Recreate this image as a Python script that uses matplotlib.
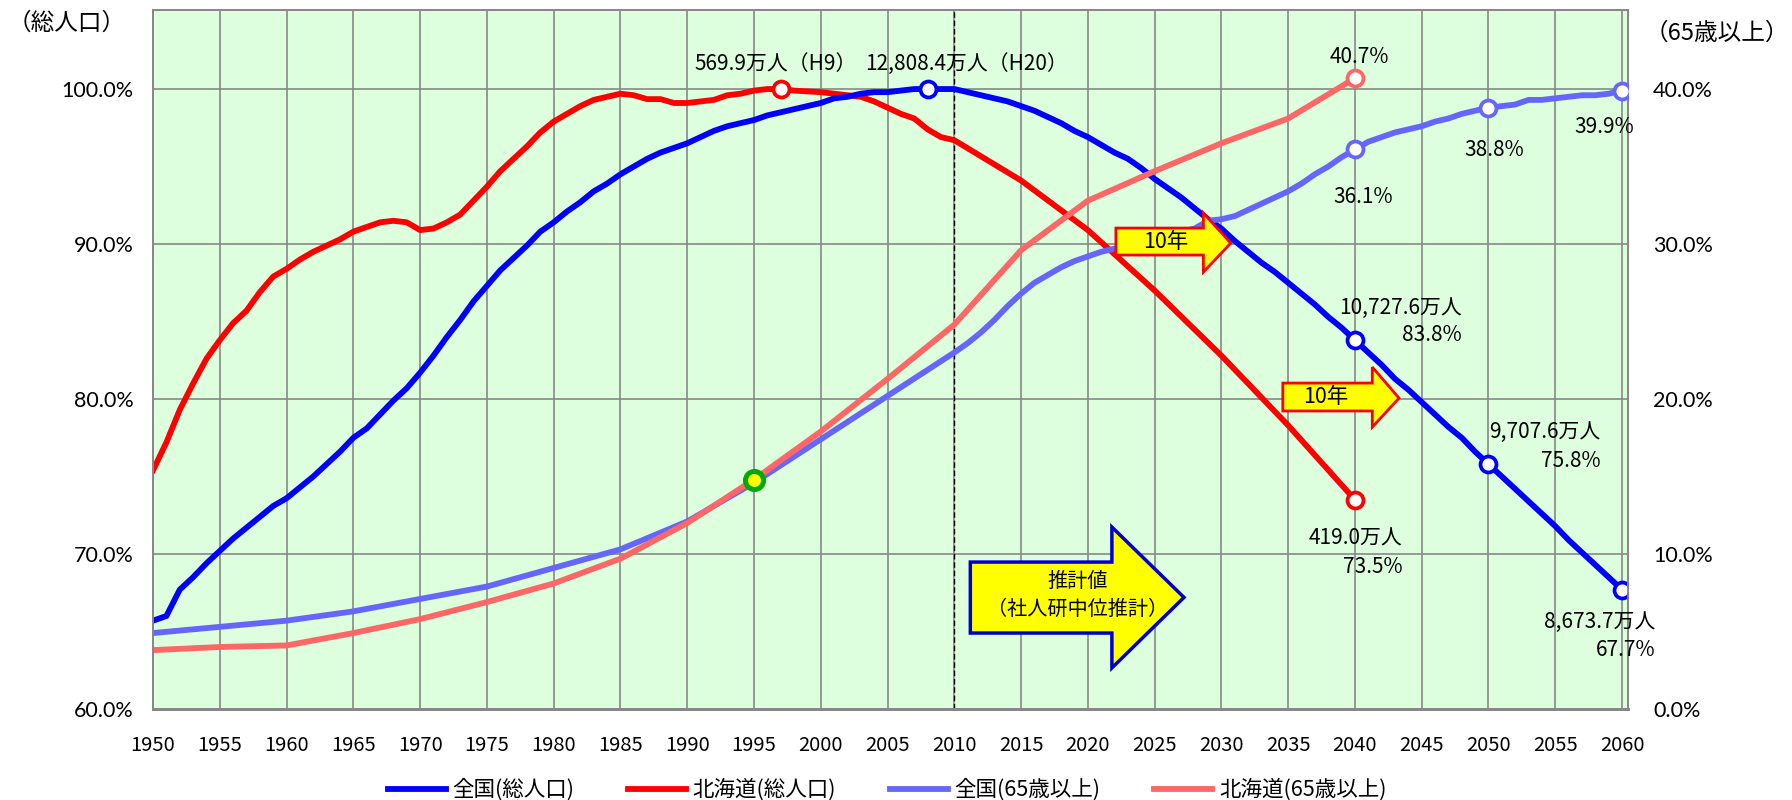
import matplotlib
matplotlib.use("Agg")
import matplotlib.pyplot as plt
from matplotlib.patches import Polygon

plt.rcParams["font.family"] = ["Noto Sans CJK JP", "DejaVu Sans"]

# ── Data (全国 = 2008年比, 北海道 = 1997年比) ───────────────────────
years_all = list(range(1950, 2061))
zenkoku_total = [
    65.7, 66.0, 67.7, 68.5, 69.4, 70.2, 71.0, 71.7, 72.4, 73.1,   # 1950-59
    73.6, 74.3, 75.0, 75.8, 76.6, 77.5, 78.1, 79.0, 79.9, 80.7,   # 1960-69
    81.7, 82.8, 84.0, 85.1, 86.3, 87.3, 88.3, 89.1, 89.9, 90.8,   # 1970-79
    91.4, 92.1, 92.7, 93.4, 93.9, 94.5, 95.0, 95.5, 95.9, 96.2,   # 1980-89
    96.5, 96.9, 97.3, 97.6, 97.8, 98.0, 98.3, 98.5, 98.7, 98.9,   # 1990-99
    99.1, 99.4, 99.5, 99.7, 99.8, 99.8, 99.9, 100.0, 100.0, 100.0,  # 2000-09
    100.0, 99.8, 99.6, 99.4, 99.2, 98.9, 98.6, 98.2, 97.8, 97.3,  # 2010-19
    96.9, 96.4, 95.9, 95.5, 94.9, 94.2, 93.6, 93.0, 92.3, 91.6,   # 2020-29
    91.0, 90.2, 89.5, 88.8, 88.2, 87.5, 86.8, 86.1, 85.3, 84.6,   # 2030-39
    83.8, 83.0, 82.2, 81.3, 80.6, 79.8, 79.0, 78.2, 77.5, 76.6,   # 2040-49
    75.8, 75.0, 74.2, 73.4, 72.6, 71.8, 70.9, 70.1, 69.3, 68.5,   # 2050-59
    67.7,                                                          # 2060
]

years_hkd = list(range(1950, 2011)) + [2015, 2020, 2025, 2030, 2035, 2040]
hokkaido_total = [
    75.4, 77.2, 79.3, 81.0, 82.6, 83.8, 84.9, 85.7, 86.9, 87.9,   # 1950-59
    88.4, 89.0, 89.5, 89.9, 90.3, 90.8, 91.1, 91.4, 91.5, 91.4,   # 1960-69
    90.9, 91.0, 91.4, 91.9, 92.8, 93.7, 94.7, 95.5, 96.3, 97.2,   # 1970-79
    97.9, 98.4, 98.9, 99.3, 99.5, 99.7, 99.6, 99.35, 99.35, 99.1,  # 1980-89
    99.1, 99.2, 99.3, 99.6, 99.7, 99.9, 100.0, 100.0, 99.9, 99.85,  # 1990-99
    99.8, 99.7, 99.6, 99.5, 99.2, 98.8, 98.4, 98.1, 97.4, 96.9,   # 2000-09
    96.7,                                                          # 2010
    94.1, 90.9, 87.0, 82.8, 78.3, 73.5,                            # 2015-40
]

years_z65 = [1950, 1955, 1960, 1965, 1970, 1975, 1980, 1985, 1990, 1995,
             2000, 2005] + list(range(2010, 2061))
zenkoku_65 = [
    4.9, 5.3, 5.7, 6.3, 7.1, 7.9, 9.1, 10.3, 12.1, 14.6, 17.4, 20.2,  # 1950-2005
    23.0, 23.6, 24.3, 25.1, 26.0, 26.8, 27.5, 28.0, 28.5, 28.9,       # 2010-19
    29.2, 29.5, 29.7, 29.9, 30.1, 30.4, 30.6, 30.8, 31.0, 31.5,       # 2020-29
    31.6, 31.8, 32.2, 32.6, 33.0, 33.4, 33.9, 34.5, 35.0, 35.6,       # 2030-39
    36.1, 36.6, 36.9, 37.2, 37.4, 37.6, 37.9, 38.1, 38.4, 38.6,       # 2040-49
    38.8, 38.9, 39.0, 39.3, 39.3, 39.4, 39.5, 39.6, 39.6, 39.7,       # 2050-59
    39.9,                                                             # 2060
]

years_h65 = list(range(1950, 2041, 5))
hokkaido_65 = [3.8, 4.0, 4.1, 4.9, 5.8, 6.9, 8.1, 9.7, 12.0, 14.8,
               17.9, 21.3, 24.8, 29.6, 32.8, 34.7, 36.5, 38.1, 40.7]

labels = ["全国(総人口)", "北海道(総人口)", "全国(65歳以上)", "北海道(65歳以上)"]

# ── Style ─────────────────────────────────────────────────────────
C_ZT  = "#0000FF"
C_HT  = "#FF0000"
C_Z65 = "#6666FF"
C_H65 = "#FF6666"
BG    = "#DDFFDD"
GRID  = "#878787"
LW    = 4.2
YFONT = ["Lato", "DejaVu Sans"]

fig = plt.figure(figsize=(17.92, 8), dpi=100)
ax = fig.add_axes([0.0854, 0.11375, 0.8231, 0.87375])
ax2 = ax.twinx()

ax.set_facecolor(BG)
ax.set_xlim(1950, 2060.45)
ax.set_ylim(60, 105.1)
ax2.set_ylim(0, 45.1)

ax.set_xticks(range(1950, 2061, 5))
ax.set_yticks(range(60, 101, 10))
ax.set_yticklabels([f"{v:.1f}%" for v in range(60, 101, 10)],
                   family=YFONT, fontsize=15.5)
ax2.set_yticks(range(0, 41, 10))
ax2.set_yticklabels([f"{v:.1f}%" for v in range(0, 41, 10)],
                    family=YFONT, fontsize=15.5)
ax.tick_params(axis="x", length=0, pad=19, labelsize=14.5)
ax.tick_params(axis="y", length=0, pad=14)
ax2.tick_params(axis="y", length=0, pad=18)

ax.set_axisbelow(True)
ax.grid(True, color=GRID, lw=1.2)
for a in (ax, ax2):
    for s in a.spines.values():
        s.set_color(GRID)
        s.set_linewidth(1.3)
    a.spines["bottom"].set_linewidth(2)

ax.axvline(2010, color="black", lw=1.0, ls=(0, (4, 2)), zorder=1.5)

# ── Lines ─────────────────────────────────────────────────────────
l1, = ax.plot(years_all, zenkoku_total, color=C_ZT, lw=LW, zorder=3)
l2, = ax.plot(years_hkd, hokkaido_total, color=C_HT, lw=LW, zorder=2.5)
l3, = ax2.plot(years_z65, zenkoku_65, color=C_Z65, lw=LW, zorder=2)
l4, = ax2.plot(years_h65, hokkaido_65, color=C_H65, lw=LW, zorder=2.5)

mk = dict(marker="o", ms=11.5, mew=2.7, mfc="white", ls="none", zorder=6)
for y in (2008, 2040, 2050, 2060):
    i = years_all.index(y)
    ax.plot(years_all[i], zenkoku_total[i], mec=C_ZT, **mk)
for y in (1997, 2040):
    i = years_hkd.index(y)
    ax.plot(years_hkd[i], hokkaido_total[i], mec=C_HT, **mk)
for y in (2040, 2050, 2060):
    i = years_z65.index(y)
    ax2.plot(years_z65[i], zenkoku_65[i], mec=C_Z65, **mk)
i = years_h65.index(2040)
ax2.plot(years_h65[i], hokkaido_65[i], mec=C_H65, **mk)
i = years_h65.index(1995)
ax2.plot(years_h65[i], hokkaido_65[i], marker="o", ms=13, mew=3.6,
         mfc="#FFFF00", mec="#00AA00", zorder=7)

# ── Arrows (left-axis units) ─────────────────────────────────────
def arrow(x0, xb, xt, bt, bb, ht, hb, yt, fc, ec, lw):
    pts = [(x0, bb), (x0, bt), (xb, bt), (xb, ht), (xt, yt), (xb, hb), (xb, bb)]
    p = Polygon(pts, closed=True, facecolor=fc, edgecolor=ec, lw=lw,
                transform=ax.transData, zorder=8, joinstyle="miter")
    ax2.add_patch(p)

arrow(2022.1, 2028.65, 2030.7, 91.03, 89.29, 92.0, 88.19, 90.06,
      "#FFFF00", "#FF0000", 2.0)
ax2.text(2025.8, 90.1, "10年", transform=ax.transData, ha="center",
         va="center", fontsize=15.5, zorder=9)
arrow(2034.6, 2041.3, 2043.3, 81.03, 79.23, 82.06, 78.19, 80.06,
      "#FFFF00", "#FF0000", 2.0)
ax2.text(2037.8, 80.1, "10年", transform=ax.transData, ha="center",
         va="center", fontsize=15.5, zorder=9)
arrow(2011.2, 2021.8, 2027.2, 69.48, 64.9, 71.74, 62.65, 67.2,
      "#FFFF00", "#0000CC", 2.5)
ax2.text(2019.2, 68.2, "推計値", transform=ax.transData, ha="center",
         va="center", fontsize=14.5, zorder=9)
ax2.text(2019.2, 66.4, "（社人研中位推計）", transform=ax.transData,
         ha="center", va="center", fontsize=14.5, zorder=9)

# ── Value labels ─────────────────────────────────────────────────
TS = dict(fontsize=15, zorder=9)
ax2.text(1996.6, 101.6, "569.9万人（H9）", transform=ax.transData,
         ha="center", va="center", **TS)
ax2.text(2010.9, 101.6, "12,808.4万人（H20）", transform=ax.transData,
         ha="center", va="center", **TS)

ax2.text(2040.3, 42.06, "40.7%", ha="center", va="center", **TS)
ax2.text(2040.6, 33.03, "36.1%", ha="center", va="center", **TS)
ax2.text(2050.4, 36.06, "38.8%", ha="center", va="center", **TS)
ax2.text(2058.7, 37.55, "39.9%", ha="center", va="center", **TS)

pairs = [
    (2048.0, 85.87, 84.13, "10,727.6万人", "83.8%"),
    (2058.4, 77.87, 76.0, "9,707.6万人", "75.8%"),
    (2043.55, 71.03, 69.16, "419.0万人", "73.5%"),
    (2062.5, 65.61, 63.8, "8,673.7万人", "67.7%"),
]
for xr, y1, y2, t1, t2 in pairs:
    ax2.text(xr, y1, t1, transform=ax.transData, ha="right", va="center", **TS)
    ax2.text(xr, y2, t2, transform=ax.transData, ha="right", va="center", **TS)

# ── Axis titles ──────────────────────────────────────────────────
fig.text(8 / 1792, 1 - 23 / 800, "（総人口）", ha="left", va="center",
         fontsize=17)
fig.text(1645 / 1792, 1 - 33 / 800, "（65歳以上）", ha="left", va="center",
         fontsize=17)

# ── Legend ───────────────────────────────────────────────────────
fig.legend([l1, l2, l3, l4], labels, loc="center", ncol=4,
           bbox_to_anchor=(0.495, 1 - 790 / 800), frameon=False,
           fontsize=15.5, handlelength=2.7, handletextpad=0.3,
           columnspacing=2.5)

fig.savefig("out.png", dpi=100, facecolor="white")
